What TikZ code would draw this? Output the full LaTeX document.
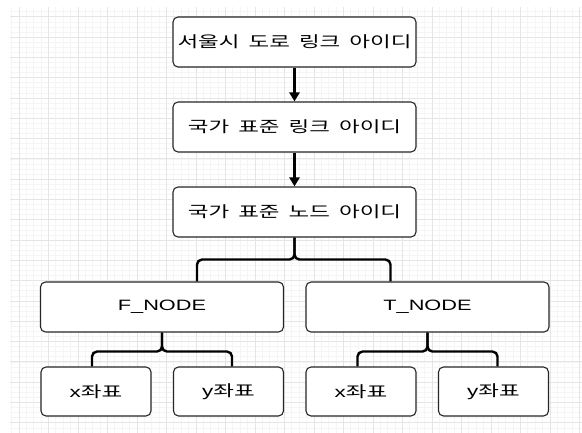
\documentclass[tikz,border=0pt]{standalone}
\usepackage{fontspec}
\usetikzlibrary{arrows.meta,calc}
\newfontfamily\krfont[FakeStretch=1.45,WordSpace=1.8]{Noto Sans CJK KR}
\newfontfamily\latfont[FakeStretch=1.45]{Liberation Sans}
\begin{document}
\begin{tikzpicture}[x=1pt,y=-1pt,
  box/.style={draw=black!85, line width=1.1pt, rounded corners=5pt, fill=white,
    inner sep=0pt, font=\fontsize{15.5pt}{18pt}\selectfont\krfont},
  bigbox/.style={box, minimum width=243pt, minimum height=50pt},
  smallbox/.style={box, minimum width=110pt, minimum height=49pt},
  latbox/.style={font=\fontsize{15pt}{18pt}\selectfont\latfont},
  arr/.style={line width=2.4pt, -{Triangle[length=9pt,width=10pt]}},
  conn/.style={line width=2.4pt, rounded corners=5pt},
  minorline/.style={draw=black!4, line width=0.5pt},
  majorline/.style={draw=black!10, line width=0.6pt}]
\useasboundingbox (0,0) rectangle (582,433);
\fill[white] (0,0) rectangle (582,433);
% grid
\foreach \i in {0,...,77} {
  \pgfmathsetmacro{\gx}{11.425+\i*7.375}
  \draw[minorline] (\gx,7) -- (\gx,433);
}
\foreach \i in {0,...,84} {
  \pgfmathsetmacro{\gy}{11.625+\i*5.075}
  \draw[minorline] (10,\gy) -- (582,\gy);
}
\foreach \i in {0,...,19} {
  \pgfmathsetmacro{\gx}{18.8+\i*29.5}
  \draw[majorline] (\gx,7) -- (\gx,433);
}
\foreach \i in {0,...,20} {
  \pgfmathsetmacro{\gy}{16.7+\i*20.3}
  \draw[majorline] (10,\gy) -- (582,\gy);
}
% nodes
\node[bigbox] (b1) at (294.5,42) {서울시 도로 링크 아이디};
\node[bigbox] (b2) at (294.5,127) {국가 표준 링크 아이디};
\node[bigbox] (b3) at (294.5,212) {국가 표준 노드 아이디};
\node[bigbox, latbox] (fn) at (162,307) {F\_NODE};
\node[bigbox, latbox] (tn) at (427.5,307) {T\_NODE};
\node[smallbox] (s1) at (96,391.5) {{\latfont x}좌표};
\node[smallbox] (s2) at (228.5,391.5) {{\latfont y}좌표};
\node[smallbox] (s3) at (361,391.5) {{\latfont x}좌표};
\node[smallbox] (s4) at (493.5,391.5) {{\latfont y}좌표};
% connectors
\draw[arr] (b1.south) -- (b2.north);
\draw[arr] (b2.south) -- (b3.north);
\draw[conn] (b3.south) -- ++(0,22) -| ([xshift=35pt]fn.north);
\draw[conn] (b3.south) -- ++(0,22) -| ([xshift=-37pt]tn.north);
\draw[conn] (fn.south) -- ++(0,19) -| ([xshift=-4pt]s1.north);
\draw[conn] (fn.south) -- ++(0,19) -| ([xshift=3.5pt]s2.north);
\draw[conn] (tn.south) -- ++(0,19) -| ([xshift=-3.5pt]s3.north);
\draw[conn] (tn.south) -- ++(0,19) -| ([xshift=4pt]s4.north);
\end{tikzpicture}
\end{document}
